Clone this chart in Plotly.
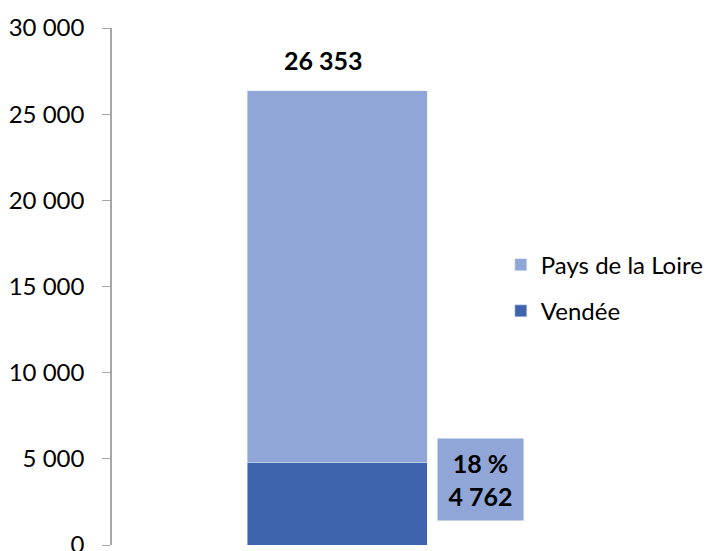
import plotly.graph_objects as go

categories = [""]
vendee = [4762]
pays_loire_total = [26353]
series_names = ["Vendée", "Pays de la Loire"]
tick_vals = [0, 5000, 10000, 15000, 20000, 25000, 30000]
tick_text = ["0", "5 000", "10 000", "15 000", "20 000", "25 000", "30 000"]

dark = "#3D64AD"
light = "#8FA6D6"
FONT = "Lato"

def fmt(v):
    return f"{v:,}".replace(",", " ")

rest = [t - v for t, v in zip(pays_loire_total, vendee)]

fig = go.Figure()
fig.add_trace(go.Bar(x=categories, y=vendee, name=series_names[0], marker_color=dark,
                     width=0.4, legendgroup="a", legendrank=2))
fig.add_trace(go.Bar(x=categories, y=rest, name=series_names[1], marker_color=light,
                     width=0.4, legendgroup="b", legendrank=1))

pct = round(100 * vendee[0] / pays_loire_total[0])
fig.add_annotation(x=categories[0], y=pays_loire_total[0], xref="x", yref="y",
                   text="<b>" + fmt(pays_loire_total[0]) + "</b>", showarrow=False,
                   yanchor="middle", yshift=31, xshift=-14,
                   font=dict(family=FONT, size=25, color="black"))
fig.add_annotation(x=categories[0], y=0, xref="x", yref="y",
                   text=f"<b>{pct} %</b><br><b>{fmt(vendee[0])}</b>", showarrow=False,
                   yanchor="bottom", yshift=24, xshift=143,
                   width=83, height=79, bgcolor=light, align="center",
                   font=dict(family=FONT, size=25, color="black"))

fig.update_layout(
    width=709, height=551,
    barmode="stack",
    paper_bgcolor="white", plot_bgcolor="white",
    margin=dict(l=112, r=147, t=28, b=6, autoexpand=False),
    font=dict(family=FONT, size=24, color="black"),
    showlegend=True,
    legend=dict(x=0.864, y=0.585, xanchor="left", yanchor="top",
                traceorder="grouped", tracegroupgap=12,
                font=dict(family=FONT, size=24, color="black"),
                bgcolor="rgba(0,0,0,0)"),
    xaxis=dict(showticklabels=False, showline=False, showgrid=False, zeroline=False,
               ticks="", range=[-0.5, 0.5], automargin=False),
    yaxis=dict(range=[0, 30000], tickvals=tick_vals, ticktext=tick_text,
               showgrid=False, zeroline=False, showline=True, linecolor="#A6A6A6",
               linewidth=1.5, ticks="outside", ticklen=8, tickcolor="#A6A6A6",
               automargin=False, ticklabeloverflow="allow",
               ticklabelstandoff=13, tickfont=dict(family=FONT, size=24, color="black")),
)

fig.write_html("out.html", config={"displayModeBar": False},
               post_script="document.body.style.margin='0';document.body.style.overflow='hidden';")
